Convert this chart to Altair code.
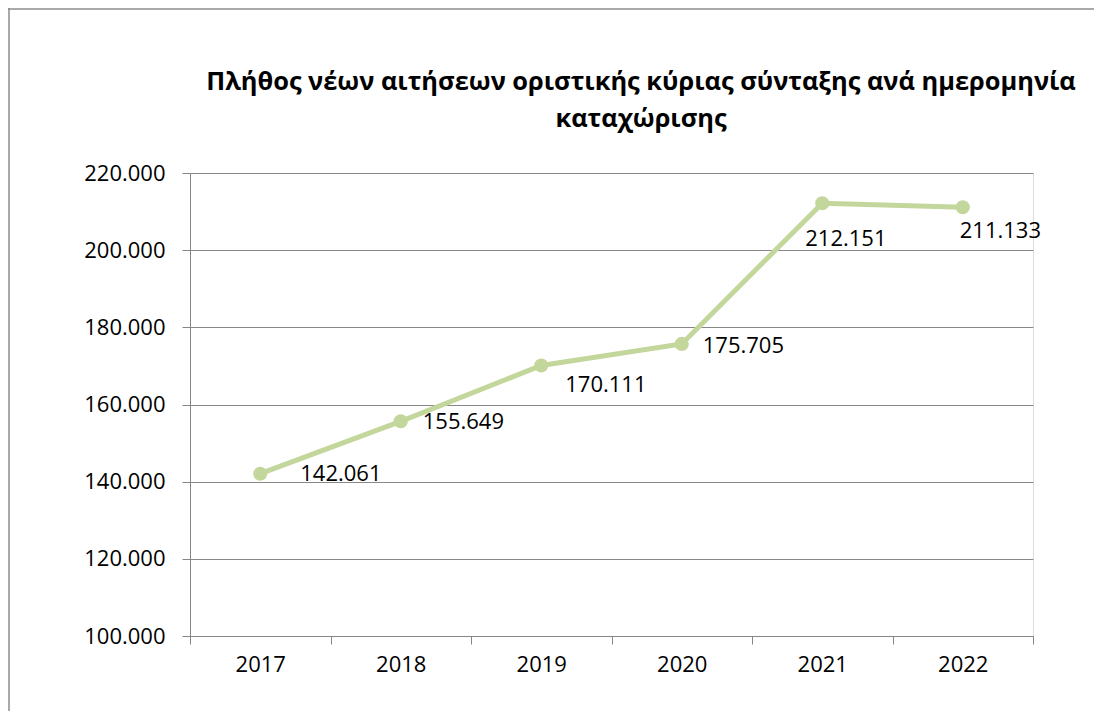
import altair as alt
import pandas as pd

years = ["2017", "2018", "2019", "2020", "2021", "2022"]
values = [142061, 155649, 170111, 175705, 212151, 211133]
y_ticks = [100000, 120000, 140000, 160000, 180000, 200000, 220000]
title_lines = ["Πλήθος νέων αιτήσεων οριστικής κύριας σύνταξης ανά ημερομηνία", "καταχώρισης"]

# label offsets (styling, relative to each point)
label_offsets = {"2017": (40, 0), "2018": (22, 1), "2019": (24, 20),
                 "2020": (21, 2), "2021": (-17, 36), "2022": (-3, 24)}

df = pd.DataFrame({"year": years, "value": values})

FONT = "Open Sans"
GRID = "#878787"
LINE = "#c3d69b"
FS = 22

x_enc = alt.X("year:N", sort=years,
              scale=alt.Scale(type="band", paddingInner=0, paddingOuter=0),
              axis=alt.Axis(title=None, labelAngle=0, tickBand="extent", ticks=True,
                            tickSize=8, tickColor=GRID, domainColor=GRID,
                            labelPadding=10, labelFontSize=FS, labelFont=FONT,
                            labelColor="#000000", grid=False))
y_enc = alt.Y("value:Q",
              scale=alt.Scale(domain=[100000, 220000], nice=False, zero=False),
              axis=alt.Axis(title=None, values=y_ticks, tickSize=8, tickColor=GRID,
                            domainColor=GRID, gridColor=GRID, grid=True,
                            labelPadding=17, labelFontSize=FS, labelFont=FONT,
                            labelColor="#000000",
                            labelExpr="replace(format(datum.value, ','), ',', '.')"))

base = alt.Chart(df)

line = base.mark_line(color=LINE, strokeWidth=5).encode(x=x_enc, y=y_enc)
points = base.mark_circle(color=LINE, opacity=1, size=200).encode(x=x_enc, y=y_enc)

labels = []
for yr, (dx, dy) in label_offsets.items():
    labels.append(
        base.transform_filter(alt.datum.year == yr)
        .transform_calculate(label="replace(format(datum.value, ','), ',', '.')")
        .mark_text(align="left", baseline="middle", dx=dx, dy=dy,
                   fontSize=FS, font=FONT, color="#000000")
        .encode(x=alt.X("year:N", sort=years), y="value:Q", text="label:N")
    )

one = alt.Data(values=[{"a": 1}])
left_border = alt.Chart(one).mark_rule(color="#8c8c8c", strokeWidth=1.5).encode(
    x=alt.value(-181), y=alt.value(-165), y2=alt.value(538))
top_border = alt.Chart(one).mark_rule(color="#8c8c8c", strokeWidth=1.5).encode(
    x=alt.value(-182), x2=alt.value(904), y=alt.value(-164))

title = alt.Chart(one).mark_text(
    text=title_lines, font=FONT, fontSize=25.4, fontWeight="bold", color="#000000",
    align="center", baseline="middle", lineHeight=37,
).encode(x=alt.value(451), y=alt.value(-91))

chart = alt.layer(line, points, *labels, left_border, top_border, title).properties(
    width=843, height=463,
    autosize=alt.AutoSizeParams(type="none"),
    padding={"left": 182, "top": 165, "right": 61, "bottom": 75},
).configure_view(stroke=None).configure(background="white")

chart.save("out.html", embed_options={"renderer": "svg", "actions": False})
